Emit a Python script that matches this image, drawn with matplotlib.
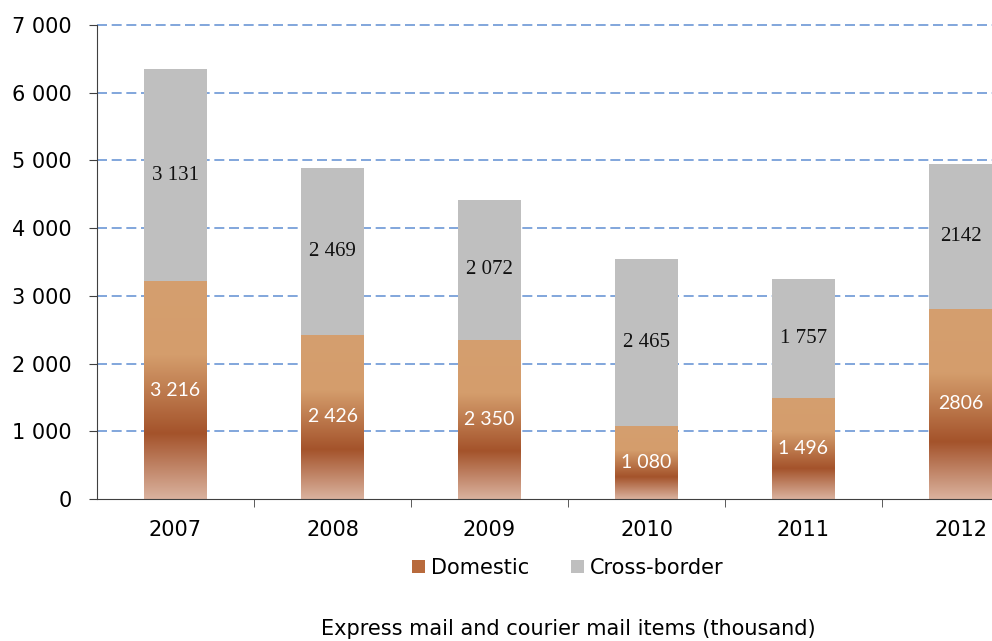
import matplotlib
matplotlib.use("Agg")
import matplotlib.pyplot as plt
import numpy as np
from matplotlib.colors import LinearSegmentedColormap
from matplotlib.patches import Patch

years = ["2007", "2008", "2009", "2010", "2011", "2012"]
domestic = [3216, 2426, 2350, 1080, 1496, 2806]
cross_border = [3131, 2469, 2072, 2465, 1757, 2142]
domestic_labels = ["3 216", "2 426", "2 350", "1 080", "1 496", "2806"]
cross_labels = ["3 131", "2 469", "2 072", "2 465", "1 757", "2142"]
yticks = [0, 1000, 2000, 3000, 4000, 5000, 6000, 7000]
ytick_labels = ["0", "1 000", "2 000", "3 000", "4 000", "5 000", "6 000", "7 000"]

fig = plt.figure(figsize=(9.92, 6.41), dpi=100)
ax = fig.add_axes([97/992, 142/641, 942/992, 474/641])

x = np.arange(len(years))
width = 0.4
grey = "#BFBFBF"
cmap = LinearSegmentedColormap.from_list(
    "dom", [(0.0, "#DAB29E"), (0.30, "#A4532B"), (0.66, "#D49D6C"), (1.0, "#D59F6F")])
grad = np.linspace(0, 1, 256).reshape(-1, 1)

dom_bars = ax.bar(x, domestic, width, color="#D49D6C", zorder=2)
for b in dom_bars:
    x0, y0 = b.get_x(), b.get_y()
    w, h = b.get_width(), b.get_height()
    im = ax.imshow(grad, cmap=cmap, origin="lower", aspect="auto",
                   extent=[x0, x0 + w, y0, y0 + h], zorder=2.1)
    im.set_clip_path(b)
cb_bars = ax.bar(x, cross_border, width, bottom=domestic, color=grey, zorder=2)

for i in range(len(years)):
    ax.text(x[i], domestic[i] / 2, domestic_labels[i], ha="center", va="center",
            color="white", fontsize=14, family="Lato", zorder=3)
    ax.text(x[i], domestic[i] + cross_border[i] / 2, cross_labels[i], ha="center",
            va="center", color="#111111", fontsize=15, family="Liberation Serif", zorder=3)

ax.set_xlim(-0.5, len(years) - 0.5)
ax.set_ylim(0, 7000)
ax.set_yticks(yticks)
ax.set_yticklabels(ytick_labels, fontsize=15)
ax.set_xticks(x)
ax.set_xticklabels(years, fontsize=15)
ax.set_xticks(np.arange(0.5, len(years) - 0.5, 1), minor=True)
ax.tick_params(axis="x", which="major", length=0, pad=15)
ax.tick_params(axis="x", which="minor", length=6, direction="out", color="#404040")
ax.tick_params(axis="y", length=6, direction="out", color="#404040", pad=12)

for yv in yticks[1:]:
    ax.axhline(yv, color="#6C97D6", linestyle=(0, (6, 2.8)), linewidth=1.2,
               zorder=1, clip_on=False)

ax.spines["top"].set_visible(False)
ax.spines["right"].set_visible(False)
ax.spines["left"].set_color("#404040")
ax.spines["bottom"].set_color("#404040")

handles = [Patch(facecolor="#B86A3C"), Patch(facecolor=grey)]
fig.legend(handles, ["Domestic", "Cross-border"], loc="center",
           bbox_to_anchor=(568/992, 1 - 568/641), ncol=2, frameon=False,
           fontsize=15, handlelength=0.6, handleheight=0.6, handletextpad=0.3,
           columnspacing=2.0)
fig.text(568/992, 1 - 629/641, "Express mail and courier mail items (thousand)",
         ha="center", va="center", fontsize=15)

fig.savefig("out.png", dpi=100)
